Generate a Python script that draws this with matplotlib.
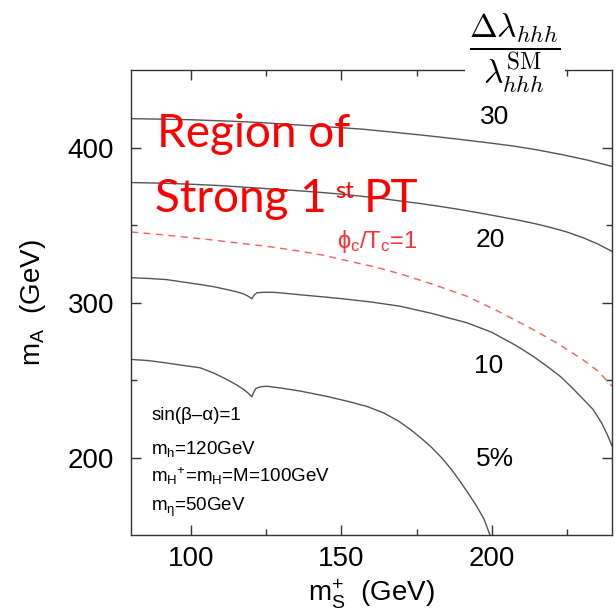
import matplotlib
matplotlib.use('Agg')
import matplotlib.pyplot as plt

plt.rcParams['font.family'] = ['Liberation Sans', 'DejaVu Sans']
plt.rcParams['mathtext.fontset'] = 'custom'
plt.rcParams['mathtext.rm'] = 'Liberation Sans'
plt.rcParams['mathtext.it'] = 'Liberation Sans'
plt.rcParams['mathtext.sf'] = 'Liberation Sans'

# contours of delta lambda_hhh / lambda_hhh^SM in the (m_S+, m_A) plane
x30 = [80, 90, 100, 113, 124, 135, 146, 157.2, 165, 173.8, 182, 190.4, 199,
       207, 215, 223.7, 232, 240]
y30 = [418.6, 418.3, 417.9, 417, 416, 414.6, 413.3, 411.8, 410.3, 408.6,
       406.9, 405, 403, 401, 398.5, 395.3, 391.8, 387.8]

x20 = [80, 90, 100, 110, 120, 127.2, 135, 142, 149.5, 156, 163, 169.5, 176,
       182.8, 190, 197, 204, 210, 215, 220, 225, 230.4, 235, 240]
y20 = [377.4, 377.0, 376.3, 375.4, 374.1, 373.2, 372.2, 371.2, 370, 368.7,
       367.2, 365.5, 363.9, 362, 359.8, 357.4, 354.9, 352.7, 350.6, 348.2,
       345.5, 341.8, 338, 333]

x10 = [80, 86, 91.8, 97, 103, 107.5, 111.8, 115, 117.4, 119, 120.2, 120.8,
       121.8, 124, 127.4, 132, 136.2, 143, 150, 160, 169.5, 180, 191.8, 200,
       208.4, 214, 219, 223, 227, 230.5, 233.7, 236.5, 238.5, 240]
y10 = [316, 315.5, 314.8, 313.3, 311.6, 310.2, 308.4, 307, 305.6, 304,
       302.4, 304.5, 306.2, 306.6, 306.6, 305.8, 305, 303.8, 302.5, 300.3,
       297.6, 293, 286.9, 280.8, 271.9, 265, 258, 252, 244.5, 237.5, 231,
       222.5, 214.5, 207.5]

x5 = [80, 86, 91.8, 97, 103, 107.5, 111.8, 115, 117.4, 119, 120.2, 120.8,
      121.5, 123, 125.1, 130, 136.2, 145, 152, 158.4, 164, 169, 173, 176.5,
      180, 183.5, 186.5, 189.5, 192.5, 195, 197.5, 199.4]
y5 = [263.3, 262.5, 261, 259.5, 257.9, 254.5, 250.4, 247, 244, 241.5, 239.2,
      242, 244.5, 245.6, 246, 244.8, 242.9, 239.5, 236.3, 233, 228.8, 223.5,
      218, 212.5, 206.5, 199.5, 192.5, 184.5, 176, 168.5, 160, 150]

# phi_c/T_c = 1 boundary
xpt = [80, 90, 100, 106.3, 115, 125, 135, 144, 152.9, 161, 169.5, 180,
       191.8, 202, 213.7, 222, 230.4, 235.5, 240]
ypt = [345.5, 343.8, 341.8, 340.5, 338.5, 336.3, 333.5, 330.5, 326.5, 323,
       318.5, 312, 304, 294.5, 282.6, 273.5, 263, 255.5, 246]

fig = plt.figure(figsize=(6.16, 6.13), dpi=100)
ax = fig.add_axes([0.2127, 0.1272, 0.7808, 0.7586])

for xs, ys in [(x30, y30), (x20, y20), (x10, y10), (x5, y5)]:
    ax.plot(xs, ys, color='#555555', lw=1.0)
ax.plot(xpt, ypt, color='#ff5a5a', lw=1.0, dashes=(5, 4))

ax.set_xlim(80, 240)
ax.set_ylim(150, 450)
ax.set_xticks([100, 150, 200])
ax.set_xticks([125, 175, 225], minor=True)
ax.set_yticks([200, 300, 400])
ax.set_yticks([250, 350], minor=True)
ax.tick_params(which='both', direction='in', top=True, right=True,
               labelsize=20, color='#333333', width=1)
ax.tick_params(which='major', length=7)
ax.tick_params(which='minor', length=4)
ax.tick_params(axis='x', pad=8)
ax.tick_params(axis='y', pad=12)
for s in ax.spines.values():
    s.set_linewidth(1.0)
    s.set_color('#333333')

ax.set_xlabel(r'm$_{\rm S}^{+}$  (GeV)', fontsize=20, labelpad=4)
ax.set_ylabel(r'm$_{\rm A}$  (GeV)', fontsize=20, labelpad=14)

# contour values
ax.text(201, 419.7, '30', fontsize=19, ha='center', va='center')
ax.text(199.4, 340.5, '20', fontsize=19, ha='center', va='center')
ax.text(199, 258.8, '10', fontsize=19, ha='center', va='center')
ax.text(201, 199, '5%', fontsize=19, ha='center', va='center')

ax.text(148.5, 335, r'ϕ$_{\rm c}$/T$_{\rm c}$=1', fontsize=17,
        color='#ff3030', va='baseline')

# benchmark parameters
ax.text(86.7, 224, 'sin(β–α)=1', fontsize=13.5, va='baseline')
ax.text(86.7, 202, r'm$_{\rm h}$=120GeV', fontsize=13.5, va='baseline')
ax.text(86.7, 184, r'm$_{\rm H}{}^{+}$=m$_{\rm H}$=M=100GeV', fontsize=13.5,
        va='baseline')
ax.text(86.7, 165.4, r'm$_{\rm η}$=50GeV', fontsize=13.5, va='baseline')

# strong first-order phase transition region
red = dict(color='red', family='Lato')
ax.text(88.6, 400.4, 'Region of', fontsize=33, va='baseline', **red)
t1 = ax.text(88, 358.6, 'Strong 1', fontsize=33, va='baseline', **red)
st = ax.annotate('st', xy=(1, 367.6), xycoords=(t1, 'data'),
                 xytext=(6, 0), textcoords='offset points', fontsize=17,
                 va='baseline', **red)
ax.annotate('PT', xy=(1, 0), xycoords=(st, t1), xytext=(7, 0),
            textcoords='offset points', fontsize=33, va='bottom', **red)

fig.text(0.836, 0.913, r'$\dfrac{\Delta\lambda_{hhh}}{\lambda_{hhh}^{\rm SM}}$',
         math_fontfamily='cm', fontsize=24, ha='center', va='center',
         bbox=dict(facecolor='white', edgecolor='none', pad=3))

fig.savefig('out.png', dpi=100)
